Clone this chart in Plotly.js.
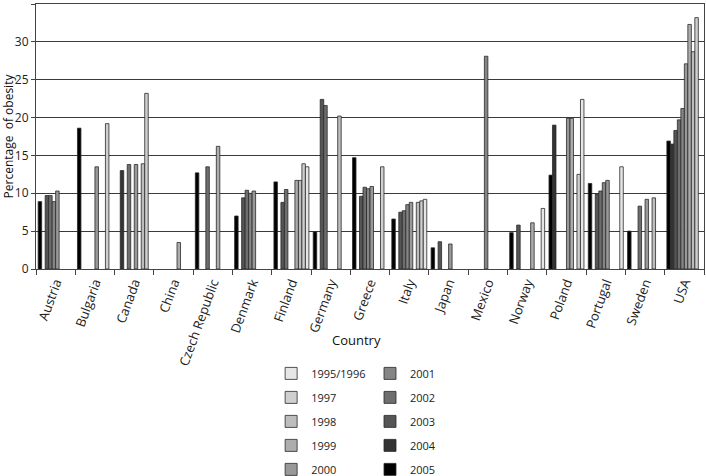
<!DOCTYPE html>
<html>
<head>
<meta charset="utf-8">
<script src="https://cdn.plot.ly/plotly-3.0.1.min.js"></script>
<style>
  body { margin: 0; background: #fff; }
  #graph { width: 706px; height: 476px; }
</style>
</head>
<body>
<div id="graph"></div>
<script>
// countries on the x axis
var countries = ["Austria", "Bulgaria", "Canada", "China", "Czech Republic", "Denmark", "Finland",
  "Germany", "Greece", "Italy", "Japan", "Mexico", "Norway", "Poland", "Portugal", "Sweden", "USA"];

// percentage of obesity per survey year (null = no data)
var y2005 = [8.9, 18.6, null, null, 12.7, 7.0, 11.5, 4.9, 14.7, 6.6, 2.8, null, 4.8, 12.4, 11.3, 5.0, 16.9];
var y2004 = [null, null, 13.0, null, null, null, null, null, null, null, null, null, null, 19.0, null, null, 16.5];
var y2003 = [9.7, null, null, null, null, 9.4, 8.8, 22.4, 9.6, 7.5, 3.6, null, 5.8, null, 9.9, null, 18.3];
var y2002 = [9.7, null, 13.8, null, 13.5, 10.4, 10.5, 21.6, 10.8, 7.7, null, null, null, null, 10.3, 8.3, 19.7];
var y2001 = [8.9, null, null, null, null, 10.0, null, null, 10.6, 8.5, null, 28.1, null, null, 11.4, null, 21.2];
var y2000 = [10.3, 13.5, 13.8, null, null, 10.3, null, null, 10.9, 8.8, 3.3, null, null, 19.9, 11.7, 9.2, 27.1];
var y1999 = [null, null, null, 3.5, 16.2, null, 11.7, null, null, null, null, null, 6.1, 19.9, null, null, 32.3];
var y1998 = [null, null, 13.9, null, null, null, 11.7, 20.2, null, 8.8, null, null, null, null, null, 9.4, 28.7];
var y1997 = [null, 19.2, 23.2, null, null, null, 13.9, null, 13.5, 9.0, null, null, null, 12.5, null, null, 33.2];
var y1995 = [null, null, null, null, null, null, 13.5, null, null, 9.2, null, null, 8.0, 22.4, 13.5, null, null];

var seriesNames = ["2005", "2004", "2003", "2002", "2001", "2000", "1999", "1998", "1997", "1995/1996"];
var seriesValues = [y2005, y2004, y2003, y2002, y2001, y2000, y1999, y1998, y1997, y1995];
var seriesColors = ["#000000", "#333333", "#555555", "#6e6e6e", "#858585", "#999999",
  "#adadad", "#bdbdbd", "#cfcfcf", "#e6e6e6"];

var traces = [];
seriesNames.forEach(function (name, i) {
  traces.push({
    type: "bar",
    name: name,
    x: countries,
    y: seriesValues[i],
    legend: i < 5 ? "legend2" : "legend",
    legendgroup: name,
    legendrank: 100 - i,   // oldest year on top
    marker: {
      color: seriesColors[i],
      line: { color: "#2a2a2a", width: 0.8 }
    },
    hoverinfo: "x+y+name"
  });
});

var fontFam = "Open Sans, DejaVu Sans, sans-serif";

var legendBase = {
  yref: "container",
  y: 0.246, xanchor: "left", yanchor: "top",
  orientation: "v",
  traceorder: "grouped",
  tracegroupgap: 5,
  font: { size: 11, family: fontFam, color: "#222" },
  bgcolor: "rgba(0,0,0,0)"
};

var layout = {
  width: 706,
  height: 476,
  margin: { l: 36, r: 2, t: 4, b: 207 },
  paper_bgcolor: "#fff",
  plot_bgcolor: "#fff",
  barmode: "group",
  bargap: 0.11,
  bargroupgap: 0,
  font: { family: fontFam, size: 11, color: "#222" },
  xaxis: {
    type: "category",
    tickangle: -70,
    ticks: "outside",
    tickson: "boundaries",
    ticklen: 5,
    tickcolor: "#444",
    showline: true,
    linecolor: "#444",
    linewidth: 1,
    mirror: true,
    automargin: false,
    tickfont: { size: 13, family: fontFam, color: "#222" }
  },
  yaxis: {
    range: [0, 35],
    dtick: 5,
    ticks: "outside",
    ticklen: 4,
    tickcolor: "#444",
    showline: true,
    linecolor: "#444",
    mirror: true,
    showgrid: true,
    gridcolor: "#3a3a3a",
    gridwidth: 1,
    zeroline: false,
    automargin: false,
    tickfont: { size: 12, family: fontFam, color: "#222" },
    title: { text: "Percentage  of obesity", font: { size: 12, family: fontFam, color: "#111" }, standoff: 4 }
  },
  annotations: [{
    text: "Country",
    xref: "paper", yref: "paper",
    x: 0.48, y: -0.268,
    xanchor: "center", yanchor: "middle",
    showarrow: false,
    font: { size: 13, family: fontFam, color: "#111" }
  }],
  legend: Object.assign({}, legendBase, { x: 0.352 }),
  legend2: Object.assign({}, legendBase, { x: 0.50 })
};

Plotly.newPlot("graph", traces, layout, { displayModeBar: false });
</script>
</body>
</html>
